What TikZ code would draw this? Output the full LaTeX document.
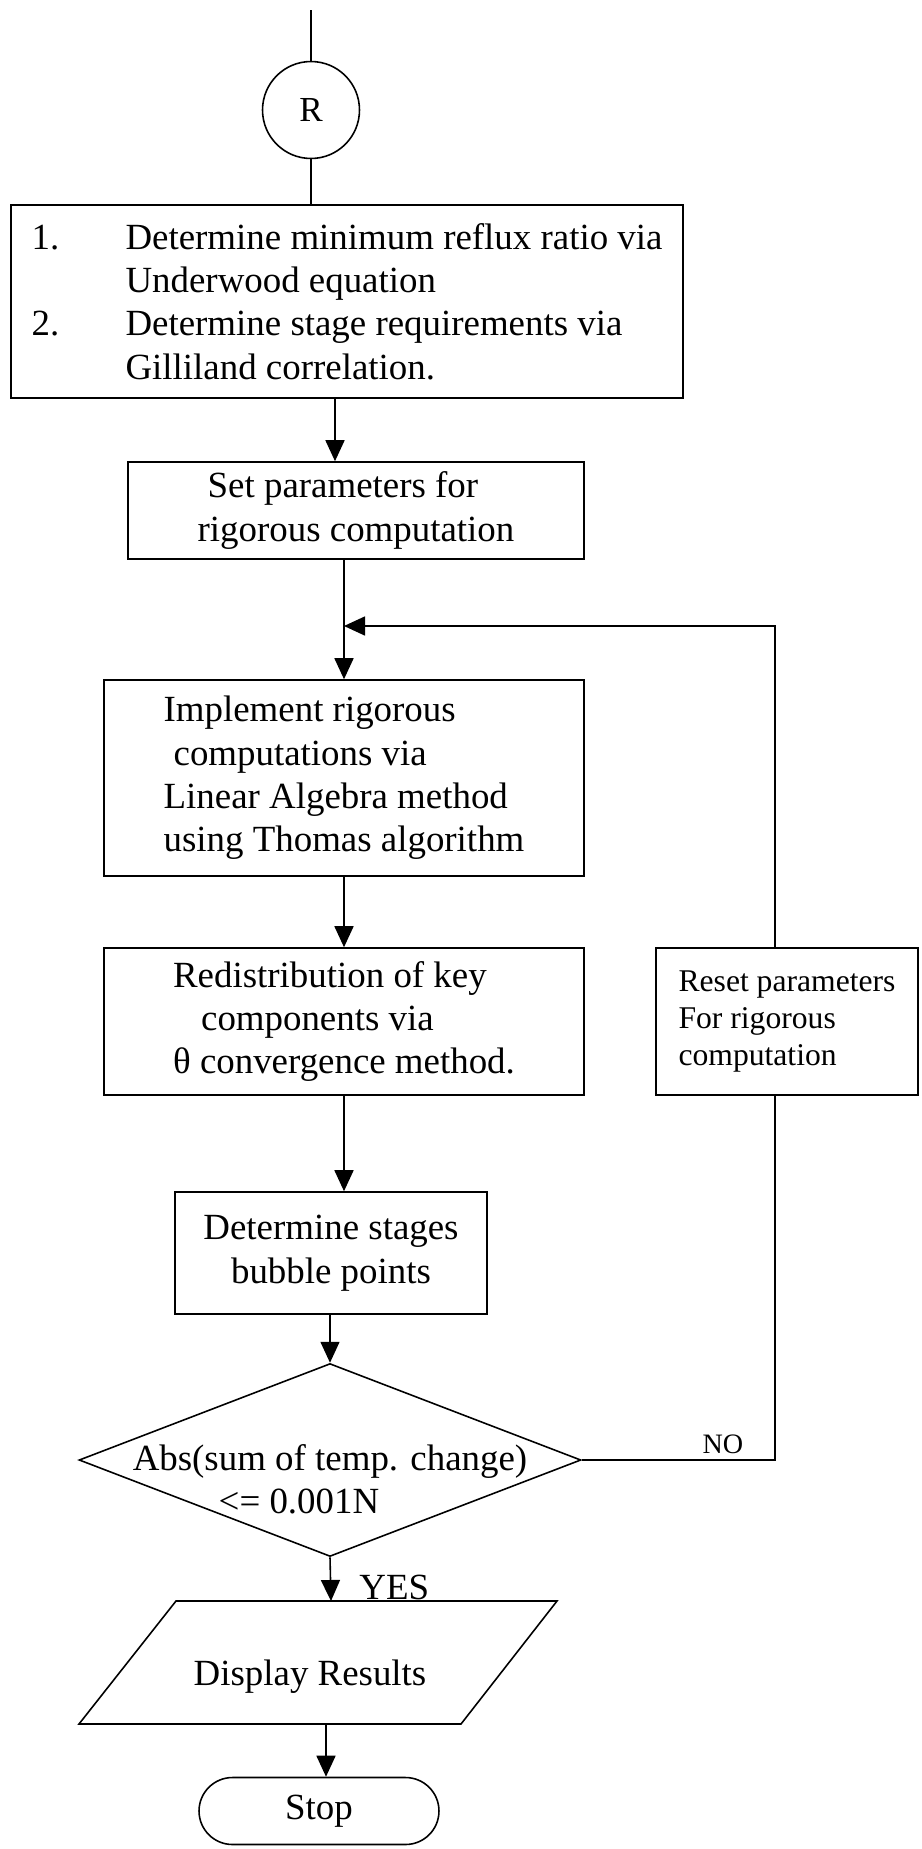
\documentclass[tikz,border=0pt]{standalone}
\usepackage{fontspec}
\setmainfont{Liberation Serif}
\usetikzlibrary{arrows.meta,shapes.geometric}
\begin{document}
\begin{tikzpicture}[x=0.02cm,y=-0.02cm,line width=0.9pt,>={Triangle[length=0.42cm,width=0.38cm]},
            every node/.style={font=\fontsize{21}{24.7}\selectfont},
            box/.style={draw,inner sep=0pt,align=left}]
            \useasboundingbox (0,0) rectangle (922,1849);
            \def\lab{1.88cm}
            \coordinate (top) at (311,10);
            \coordinate (c1) at (335,0);
            \coordinate (c2) at (344,626);
            \coordinate (c4) at (775,0);
            \coordinate (dtop) at (331,1601);
            \coordinate (dbot) at (326,1724);
            \draw (311,110) node (R) [draw,circle,minimum size=1.94cm,inner sep=0pt,font=\fontsize{20}{23}\selectfont]{R};
            \draw (347,301.5) node (box1) [box,minimum width=13.44cm,minimum height=3.86cm]{\makebox[\lab][l]{1.}Determine minimum reflux ratio via\\\hspace*{\lab}Underwood equation\\\makebox[\lab][l]{2.}Determine stage requirements via\\\hspace*{\lab}Gilliland correlation.};
            \draw (356,510.5) node (box2) [box,minimum width=9.12cm,minimum height=1.94cm]{\hspace*{0.2cm}Set parameters for\\rigorous computation};
            \draw (344,778) node (box3) [box,minimum width=9.6cm,minimum height=3.92cm]{Implement rigorous\\\hspace*{0.2cm}computations via\\Linear Algebra method\\using Thomas algorithm};
            \draw (344,1021.5) node (box4) [box,minimum width=9.6cm,minimum height=2.94cm]{Redistribution of key\\\hspace*{0.56cm}components via\\θ convergence method.};
            \draw (787,1021.5) node (reset) [box,minimum width=5.24cm,minimum height=2.94cm,font=\fontsize{18}{21}\selectfont]{Reset parameters\\For rigorous\\computation};
            \draw (331,1253) node (box5) [box,align=center,minimum width=6.24cm,minimum height=2.44cm]{Determine stages\\bubble points};
            \draw (330,1460) node (dec) [draw,diamond,minimum width=10.04cm,minimum height=3.86cm,inner sep=0pt]{};
            \draw (dec) ++(0,19) node (dectxt) [align=left,inner sep=0pt]{Abs(sum of temp. change)\\\hspace*{1.72cm}<= 0.001N};
            \draw (176,1601) -- (557,1601) -- (461,1724) -- (79,1724) -- cycle;
            \draw (310,1677) node (disp) {Display Results};
            \draw (319,1811) node (stop) [draw,rounded corners=0.67cm,minimum width=4.8cm,minimum height=1.34cm]{Stop};
            \draw (top) -- (R.north);
            \draw (R.south) -- (R.south |- box1.north);
            \draw [->](box1.south -| c1) -- (box2.north -| c1);
            \draw [->](box2.south -| c2) -- (box3.north -| c2);
            \draw [->](box3.south -| c2) -- (box4.north -| c2);
            \draw [->](box4.south -| c2) -- (box5.north -| c2);
            \draw [->](dec.north |- box5.south) -- (dec.north);
            \draw [->](dec.south) -- (dtop) node [right,pos=0.7,xshift=0.56cm,inner sep=0pt]{YES};
            \draw [->](dbot) -- (stop.north -| dbot);
            \draw (dec.east) -- (dec.east -| c4) node [above,pos=0.73,font=\fontsize{16}{19}\selectfont]{NO} -- (reset.south -| c4);
            \draw [->](reset.north -| c4) |- (c2);
        \end{tikzpicture}
\end{document}
